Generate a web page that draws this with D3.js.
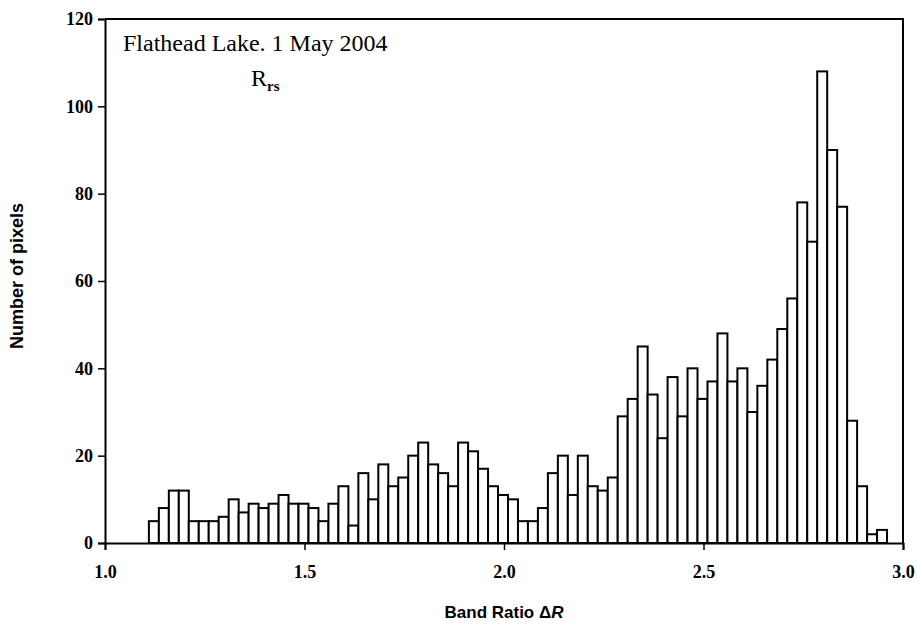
<!DOCTYPE html>
<html>
<head>
<meta charset="utf-8">
<script src="https://cdn.jsdelivr.net/npm/d3@7"></script>
<style>
  body { margin: 0; background: #fff; }
  svg { display: block; }
</style>
</head>
<body>
<svg id="chart"></svg>
<script>
// histogram bins: left edge of first bin and bin width (band ratio units)
const binStart = 1.11;
const binWidth = 0.025;

// pixel counts per bin
const counts = [
  5, 8, 12, 12, 5, 5, 5, 6, 10, 7, 9, 8, 9, 11, 9, 9,
  8, 5, 9, 13, 4, 16, 10, 18, 13, 15, 20, 23, 18, 16, 13, 23, 21, 17, 13, 11,
  10, 5, 5, 8, 16, 20, 11, 20, 13, 12, 15, 29, 33, 45, 34, 24, 38, 29, 40,
  33, 37, 48, 37, 40, 30, 36, 42, 49, 56, 78,
  69, 108, 90, 77, 28, 13, 2, 3
];

const xTicks = [1.0, 1.5, 2.0, 2.5, 3.0];
const yTicks = [0, 20, 40, 60, 80, 100, 120];

const bins = counts.map((c, i) => ({
  x0: binStart + i * binWidth,
  x1: binStart + (i + 1) * binWidth,
  count: c
}));

const W = 917, H = 625;
const margin = { top: 19, right: 14, bottom: 82, left: 105 };
const width = W - margin.left - margin.right;
const height = H - margin.top - margin.bottom;

const svg = d3.select("#chart")
  .attr("width", W)
  .attr("height", H);

const g = svg.append("g")
  .attr("transform", `translate(${margin.left},${margin.top})`);

const x = d3.scaleLinear().domain([1.0, 3.0]).range([0, width]);
const y = d3.scaleLinear().domain([0, 120]).range([height, 0]);

const tickFont = "'Liberation Serif', 'Times New Roman', serif";
const labelFont = "'Liberation Sans Narrow', 'Liberation Sans', Arial, sans-serif";

// bars
g.selectAll("rect.bar")
  .data(bins)
  .enter()
  .append("rect")
  .attr("class", "bar")
  .attr("x", d => x(d.x0))
  .attr("y", d => y(d.count))
  .attr("width", d => x(d.x1) - x(d.x0))
  .attr("height", d => y(0) - y(d.count))
  .attr("fill", "#fff")
  .attr("stroke", "#000")
  .attr("stroke-width", 2);

// frame (top + right)
g.append("path")
  .attr("d", `M0,0H${width}V${height}`)
  .attr("fill", "none")
  .attr("stroke", "#000")
  .attr("stroke-width", 2);

// x axis
const xAxis = g.append("g")
  .attr("transform", `translate(0,${height})`)
  .call(d3.axisBottom(x).tickValues(xTicks).tickFormat(d3.format(".1f")).tickSize(7).tickPadding(15));

// y axis
const yAxis = g.append("g")
  .call(d3.axisLeft(y).tickValues(yTicks).tickSize(7).tickPadding(5));

[xAxis, yAxis].forEach(ax => {
  ax.select(".domain").attr("stroke-width", 2);
  ax.selectAll(".tick line").attr("stroke-width", 1.5);
  ax.selectAll(".tick text")
    .style("font-family", tickFont)
    .style("font-weight", "bold")
    .style("font-size", "18px")
    .attr("fill", "#000");
});

// axis titles
const xTitle = svg.append("text")
  .attr("x", margin.left + width / 2)
  .attr("y", 618)
  .attr("text-anchor", "middle")
  .style("font-family", labelFont)
  .style("font-size", "17px")
  .style("font-weight", "bold");
xTitle.append("tspan").text("Band Ratio Δ");
xTitle.append("tspan").style("font-style", "italic").text("R");

svg.append("text")
  .attr("transform", `translate(23,276) rotate(-90)`)
  .attr("text-anchor", "middle")
  .style("font-family", labelFont)
  .style("font-size", "18px")
  .style("font-weight", "bold")
  .text("Number of pixels");

// in-plot title
g.append("text")
  .attr("x", 18)
  .attr("y", 32)
  .style("font-family", tickFont)
  .style("font-size", "24px")
  .text("Flathead Lake. 1 May 2004");

const rrs = g.append("text")
  .attr("x", 146)
  .attr("y", 67)
  .style("font-family", tickFont)
  .style("font-size", "24px");
rrs.append("tspan").text("R");
rrs.append("tspan")
  .attr("dy", 5)
  .style("font-size", "15px")
  .style("font-weight", "bold")
  .text("rs");
</script>
</body>
</html>
